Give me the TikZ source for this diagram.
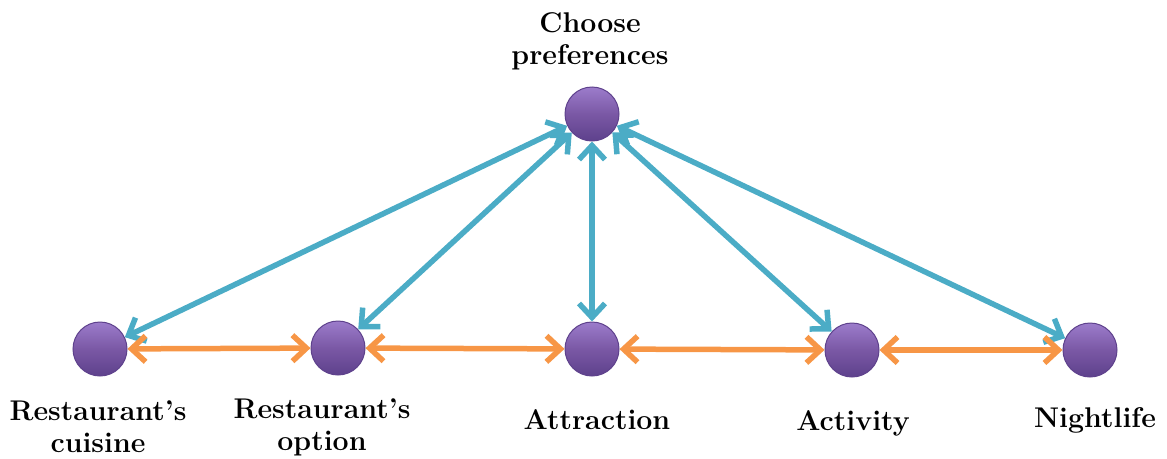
\documentclass[tikz,border=0pt]{standalone}
\usetikzlibrary{arrows.meta}
\definecolor{linkblue}{HTML}{4BACC6}
\definecolor{linkorange}{HTML}{F79646}
\definecolor{ballmid}{HTML}{7A58A5}
\definecolor{ballrim}{HTML}{5E418C}
\definecolor{balltop}{HTML}{9C7CCB}
\tikzset{
  ball/.style={circle, minimum size=54pt, inner sep=0pt, draw=ballrim, line width=1pt,
    top color=balltop, bottom color=ballrim, middle color=ballmid, shading angle=0},
  lbl/.style={font=\fontsize{28.5}{32}\selectfont\bfseries, align=center},
  tipbarb/.style={{Straight Barb[length=14pt,width=26pt]}-{Straight Barb[length=14pt,width=26pt]}},
  bluelink/.style={draw=linkblue, line width=5.5pt, tipbarb},
  orangelink/.style={draw=linkorange, line width=5.5pt, tipbarb},
}
\begin{document}
\begin{tikzpicture}[x=1pt,y=-1pt]
\useasboundingbox (0,0) rectangle (1167,458);
% preference hub and the five categories
\node[ball] (pref) at (592,114) {};
\node[ball] (cuis) at (100,349) {};
\node[ball] (opt)  at (338,348) {};
\node[ball] (attr) at (592,349) {};
\node[ball] (act)  at (852,350) {};
\node[ball] (night) at (1090,350) {};
% labels
\node[lbl] (lpref) at (590,41) {Choose\\preferences};
\node[lbl] (lcuis) at (98,427) {Restaurant's\\cuisine};
\node[lbl] (lopt)  at (322,427) {Restaurant's\\option};
\node[lbl] (lattr) at (597,420) {Attraction};
\node[lbl] (lact)  at (853,423) {Activity};
\node[lbl] (lnight) at (1095,420) {Nightlife};
% links from the hub
\foreach \n in {cuis,opt,attr,act,night}
  \draw[bluelink] (pref) -- (\n);
% links along the row
\draw[orangelink] (cuis) -- (opt);
\draw[orangelink] (opt) -- (attr);
\draw[orangelink] (attr) -- (act);
\draw[orangelink] (act) -- (night);
\end{tikzpicture}
\end{document}
